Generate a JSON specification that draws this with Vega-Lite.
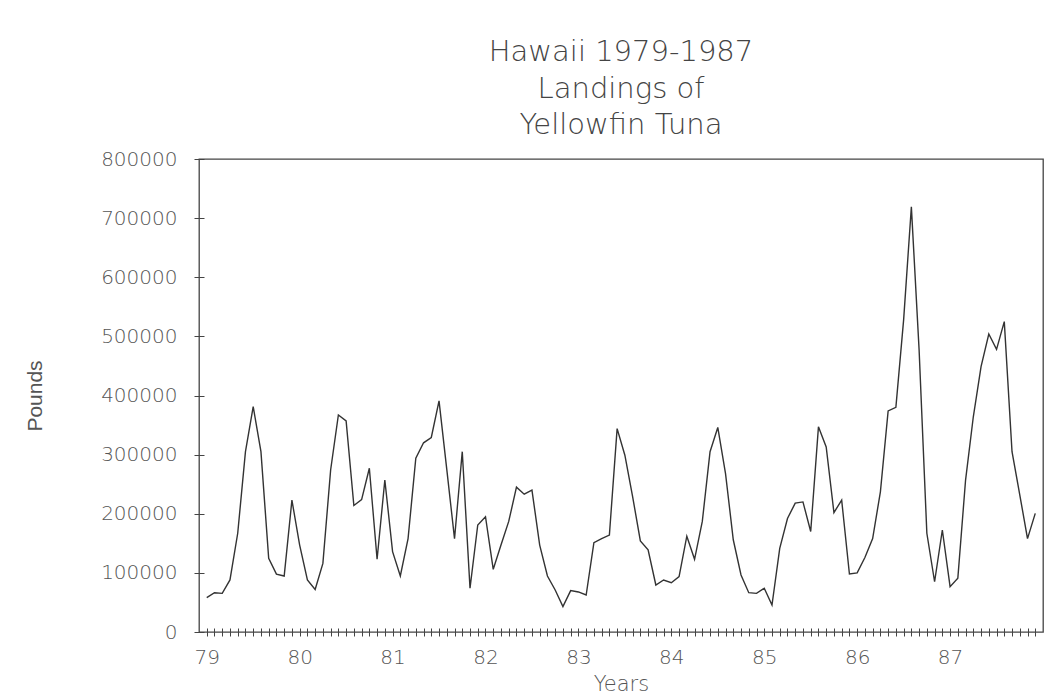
{
  "$schema": "https://vega.github.io/schema/vega-lite/v6.json",
  "width": 844,
  "height": 473,
  "autosize": {"type": "none"},
  "padding": {"left": 199, "top": 159, "right": 5, "bottom": 64},
  "background": "white",
  "config": {
    "view": {"stroke": "#444", "strokeWidth": 1.3},
    "font": "DejaVu Sans"
  },
  "title": {
    "text": ["Hawaii 1979-1987", "Landings of", "Yellowfin Tuna"],
    "fontSize": 29,
    "font": "DejaVu Sans",
    "fontWeight": 200,
    "color": "#444",
    "lineHeight": 36.5,
    "anchor": "middle",
    "frame": "group",
    "offset": 9
  },
  "data": {
    "values": [
      {"t": 0, "pounds": 58000}, {"t": 1, "pounds": 66500}, {"t": 2, "pounds": 65400}, {"t": 3, "pounds": 88000},
      {"t": 4, "pounds": 167000}, {"t": 5, "pounds": 305000}, {"t": 6, "pounds": 381000}, {"t": 7, "pounds": 305000},
      {"t": 8, "pounds": 124600}, {"t": 9, "pounds": 98000}, {"t": 10, "pounds": 94700}, {"t": 11, "pounds": 223000},
      {"t": 12, "pounds": 147000}, {"t": 13, "pounds": 88000}, {"t": 14, "pounds": 72000}, {"t": 15, "pounds": 116000},
      {"t": 16, "pounds": 274000}, {"t": 17, "pounds": 367000}, {"t": 18, "pounds": 357000}, {"t": 19, "pounds": 214000},
      {"t": 20, "pounds": 224000}, {"t": 21, "pounds": 277000}, {"t": 22, "pounds": 123000}, {"t": 23, "pounds": 257000},
      {"t": 24, "pounds": 136000}, {"t": 25, "pounds": 94700}, {"t": 26, "pounds": 158000}, {"t": 27, "pounds": 294000},
      {"t": 28, "pounds": 320000}, {"t": 29, "pounds": 329000}, {"t": 30, "pounds": 391000}, {"t": 31, "pounds": 275000},
      {"t": 32, "pounds": 158000}, {"t": 33, "pounds": 305000}, {"t": 34, "pounds": 74000}, {"t": 35, "pounds": 181000},
      {"t": 36, "pounds": 195000}, {"t": 37, "pounds": 106000}, {"t": 38, "pounds": 147000}, {"t": 39, "pounds": 187000},
      {"t": 40, "pounds": 245000}, {"t": 41, "pounds": 233000}, {"t": 42, "pounds": 240000}, {"t": 43, "pounds": 147000},
      {"t": 44, "pounds": 94700}, {"t": 45, "pounds": 71000}, {"t": 46, "pounds": 43000}, {"t": 47, "pounds": 70000},
      {"t": 48, "pounds": 67700}, {"t": 49, "pounds": 62600}, {"t": 50, "pounds": 151000}, {"t": 51, "pounds": 158000},
      {"t": 52, "pounds": 164000}, {"t": 53, "pounds": 344000}, {"t": 54, "pounds": 299000}, {"t": 55, "pounds": 229000},
      {"t": 56, "pounds": 154000}, {"t": 57, "pounds": 139000}, {"t": 58, "pounds": 79500}, {"t": 59, "pounds": 88000},
      {"t": 60, "pounds": 83400}, {"t": 61, "pounds": 93600}, {"t": 62, "pounds": 162000}, {"t": 63, "pounds": 123000},
      {"t": 64, "pounds": 187000}, {"t": 65, "pounds": 305000}, {"t": 66, "pounds": 346000}, {"t": 67, "pounds": 268000},
      {"t": 68, "pounds": 156000}, {"t": 69, "pounds": 96400}, {"t": 70, "pounds": 66500}, {"t": 71, "pounds": 65400},
      {"t": 72, "pounds": 74000}, {"t": 73, "pounds": 45700}, {"t": 74, "pounds": 141500}, {"t": 75, "pounds": 192000},
      {"t": 76, "pounds": 218000}, {"t": 77, "pounds": 220000}, {"t": 78, "pounds": 170000}, {"t": 79, "pounds": 347000},
      {"t": 80, "pounds": 313000}, {"t": 81, "pounds": 202000}, {"t": 82, "pounds": 223000}, {"t": 83, "pounds": 98000},
      {"t": 84, "pounds": 100000}, {"t": 85, "pounds": 126000}, {"t": 86, "pounds": 158000}, {"t": 87, "pounds": 237000},
      {"t": 88, "pounds": 374000}, {"t": 89, "pounds": 380000}, {"t": 90, "pounds": 528000}, {"t": 91, "pounds": 719000},
      {"t": 92, "pounds": 477000}, {"t": 93, "pounds": 167000}, {"t": 94, "pounds": 85000}, {"t": 95, "pounds": 172500},
      {"t": 96, "pounds": 76700}, {"t": 97, "pounds": 90800}, {"t": 98, "pounds": 257000}, {"t": 99, "pounds": 364000},
      {"t": 100, "pounds": 449000}, {"t": 101, "pounds": 504000}, {"t": 102, "pounds": 478000}, {"t": 103, "pounds": 525000},
      {"t": 104, "pounds": 305000}, {"t": 105, "pounds": 232000}, {"t": 106, "pounds": 158000}, {"t": 107, "pounds": 200700}
    ]
  },
  "mark": {"type": "line", "color": "#333", "strokeWidth": 1.4},
  "encoding": {
    "x": {
      "field": "t",
      "type": "quantitative",
      "scale": {"domain": [-1, 108], "nice": false, "zero": false},
      "axis": {
        "values": [0,1,2,3,4,5,6,7,8,9,10,11,12,13,14,15,16,17,18,19,20,21,22,23,24,25,26,27,28,29,30,31,32,33,34,35,36,37,38,39,40,41,42,43,44,45,46,47,48,49,50,51,52,53,54,55,56,57,58,59,60,61,62,63,64,65,66,67,68,69,70,71,72,73,74,75,76,77,78,79,80,81,82,83,84,85,86,87,88,89,90,91,92,93,94,95,96,97,98,99,100,101,102,103,104,105,106,107],
        "labelExpr": "datum.value % 12 == 0 ? '' + (79 + datum.value / 12) : ''",
        "domain": false,
        "grid": false,
        "offset": -4,
        "tickSize": 8,
        "tickColor": "#444",
        "tickWidth": 1,
        "labelOverlap": false,
        "labelFlush": false,
        "labelBound": false,
        "labelFont": "DejaVu Sans",
        "labelFontWeight": 200,
        "labelFontSize": 20,
        "labelColor": "#555",
        "labelPadding": 11,
        "title": "Years",
        "titleFont": "DejaVu Sans",
        "titleFontWeight": 200,
        "titleFontSize": 21,
        "titleColor": "#555",
        "titleX": 422,
        "titleY": 62,
        "titleAlign": "center",
        "titleBaseline": "alphabetic"
      }
    },
    "y": {
      "field": "pounds",
      "type": "quantitative",
      "scale": {"domain": [0, 800000], "nice": false},
      "axis": {
        "values": [0, 100000, 200000, 300000, 400000, 500000, 600000, 700000, 800000],
        "format": "d",
        "domain": false,
        "grid": false,
        "offset": -5,
        "tickSize": 10,
        "tickColor": "#444",
        "tickWidth": 1,
        "labelOverlap": false,
        "labelFont": "DejaVu Sans",
        "labelFontWeight": 200,
        "labelFontSize": 20,
        "labelColor": "#555",
        "labelPadding": 17,
        "title": "Pounds",
        "titleFont": "Liberation Sans Narrow, Liberation Sans",
        "titleFontWeight": "normal",
        "titleFontSize": 21,
        "titleColor": "#555",
        "titleAngle": -90,
        "titleX": -169,
        "titleY": 236.5,
        "titleAlign": "center",
        "titleBaseline": "middle"
      }
    }
  }
}
